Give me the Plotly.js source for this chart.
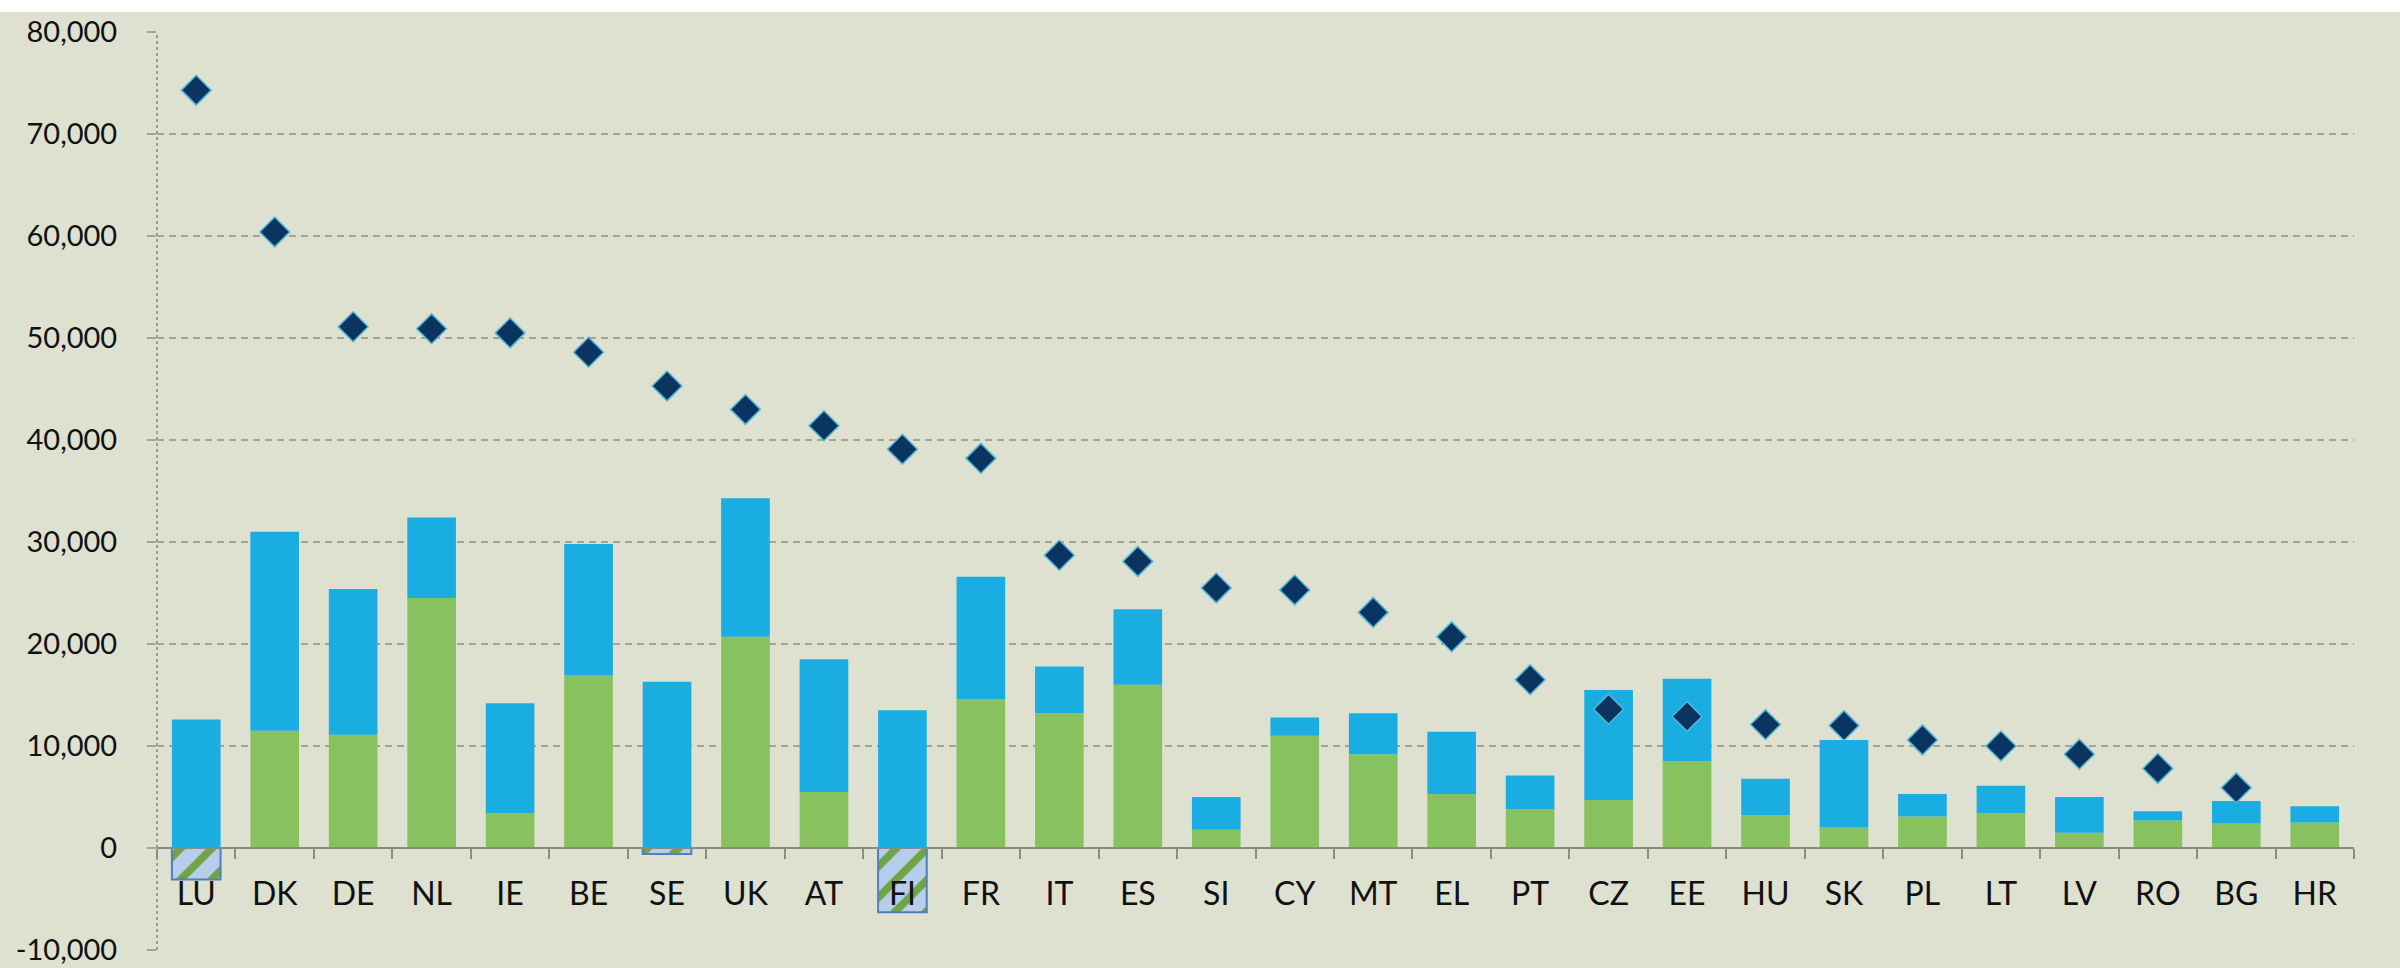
<!DOCTYPE html>
<html>
<head>
<meta charset="utf-8">
<script src="https://cdn.plot.ly/plotly-3.0.1.min.js"></script>
<style>
html,body{margin:0;padding:0;background:#dfe1d0;}
#chart{width:2400px;height:968px;}
</style>
</head>
<body>
<div id="chart"></div>
<script>
const countries = ["LU","DK","DE","NL","IE","BE","SE","UK","AT","FI","FR","IT","ES","SI","CY","MT","EL","PT","CZ","EE","HU","SK","PL","LT","LV","RO","BG","HR"];
const greenValues = [-3100,11500,11100,24500,3400,16900,-600,20700,5500,-6300,14600,13200,16000,1800,11000,9200,5300,3800,4700,8500,3200,2000,3100,3400,1500,2700,2400,2500];
const blueValues = [12600,19500,14300,7900,10800,12900,16300,13600,13000,13500,12000,4600,7400,3200,1800,4000,6100,3300,10800,8100,3600,8600,2200,2700,3500,900,2200,1600];
const diamondValues = [74300,60400,51100,50900,50500,48600,45300,43000,41400,39100,38200,28700,28100,25500,25300,23100,20700,16500,13600,12900,12100,12000,10600,10000,9200,7800,5900,null];
const yTickVals = [-10000,0,10000,20000,30000,40000,50000,60000,70000,80000];
const yTickText = ["-10,000","0","10,000","20,000","30,000","40,000","50,000","60,000","70,000","80,000"];

const GREEN = '#87c25f';
const STRIPE = '#6fa443';
const BLUE = '#1aade2';
const HATCH_BG = '#b7cdeb';

// split the green series by sign: negative values are drawn hatched
const greenPos = greenValues.map(v => v >= 0 ? v : null);
const greenNeg = greenValues.map(v => v < 0 ? v : null);

const traces = [
  {
    type: 'bar',
    x: countries,
    y: greenPos,
    marker: {color: GREEN, line: {width: 0}},
    hoverinfo: 'x+y'
  },
  {
    type: 'bar',
    x: countries,
    y: greenNeg,
    marker: {
      color: HATCH_BG,
      pattern: {
        shape: '/',
        fillmode: 'replace',
        bgcolor: HATCH_BG,
        fgcolor: STRIPE,
        fgopacity: 1,
        size: 22,
        solidity: 0.35
      },
      line: {color: '#4f7fbd', width: 2}
    },
    hoverinfo: 'x+y'
  },
  {
    type: 'bar',
    x: countries,
    y: blueValues,
    marker: {color: BLUE, line: {width: 0}},
    hoverinfo: 'x+y'
  },
  {
    type: 'scatter',
    mode: 'markers',
    x: countries,
    y: diamondValues,
    marker: {
      symbol: 'diamond',
      size: 23,
      color: '#0b3560',
      line: {color: '#53b8d6', width: 1.5}
    },
    hoverinfo: 'x+y'
  }
];

const layout = {
  width: 2400,
  height: 968,
  margin: {l: 157, r: 46, t: 32, b: 18, pad: 0},
  paper_bgcolor: '#dfe1d0',
  plot_bgcolor: '#dfe1d0',
  showlegend: false,
  barmode: 'relative',
  bargap: 0.38,
  font: {family: 'Lato, "Open Sans", sans-serif', color: '#111111'},
  xaxis: {
    type: 'category',
    anchor: 'free',
    position: 10000/90000,
    showline: true,
    linecolor: '#8a8a86',
    linewidth: 2,
    ticks: 'outside',
    tickson: 'boundaries',
    ticklen: 10,
    tickwidth: 2,
    tickcolor: '#8a8a86',
    showgrid: false,
    zeroline: false,
    tickfont: {size: 32, color: '#111111'},
    ticklabelstandoff: 18,
    range: [-0.5, 27.5]
  },
  yaxis: {
    range: [-10000, 80000],
    tickvals: yTickVals,
    ticktext: yTickText,
    showgrid: true,
    gridcolor: '#a3a396',
    gridwidth: 1.5,
    griddash: '7px,5px',
    zeroline: false,
    showline: false,
    ticks: 'outside',
    ticklen: 9,
    tickwidth: 1.5,
    tickcolor: '#a3a396',
    tickfont: {size: 29, color: '#111111'},
    ticklabelstandoff: 24
  },
  shapes: [
    {type: 'line', xref: 'paper', yref: 'paper', x0: 0, x1: 0, y0: 0, y1: 1,
     line: {color: '#9c9c92', width: 2, dash: 'dot'}, layer: 'below'},
    {type: 'rect', xref: 'paper', yref: 'paper', x0: -0.08, x1: 1.03, y0: (950-12)/918, y1: 1.04,
     fillcolor: '#ffffff', line: {width: 0}, layer: 'below'}
  ]
};

Plotly.newPlot('chart', traces, layout, {displayModeBar: false, staticPlot: true});
</script>
</body>
</html>
